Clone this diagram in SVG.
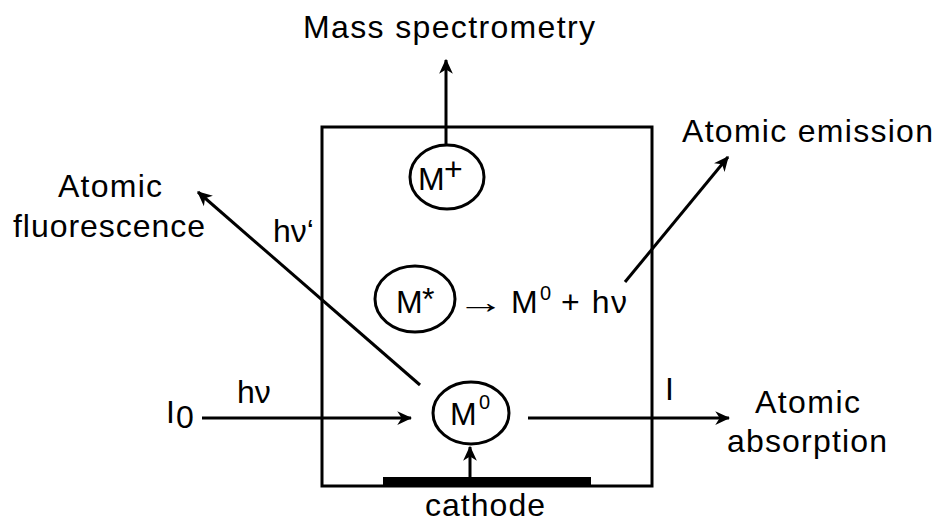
<svg xmlns="http://www.w3.org/2000/svg" width="938" height="524" viewBox="0 0 938 524">
<defs>
<marker id="ah" viewBox="0 0 12 12" markerWidth="15" markerHeight="15" refX="11" refY="6" orient="auto" markerUnits="userSpaceOnUse">
<path d="M0,0.5 L12,6 L0,11.5 L3.5,6 z" fill="#000"/>
</marker>
</defs>
<style>
text{font-family:"Liberation Sans",Arial,sans-serif;font-size:32px;fill:#000}
.sup{font-size:20px}
.node{fill:none;stroke:#000;stroke-width:3}
.conn{fill:none;stroke:#000;stroke-width:3;marker-end:url(#ah)}
</style>
<rect width="938" height="524" fill="#fff"/>
<g id="chamber">
<rect x="322" y="127" width="330" height="359" fill="none" stroke="#000" stroke-width="3"/>
</g>
<g id="cathode">
<rect x="383" y="477" width="208" height="10" fill="#000"/>
<text x="485" y="516" text-anchor="middle" textLength="120" lengthAdjust="spacing">cathode</text>
</g>
<g id="m-plus">
<ellipse class="node" cx="447" cy="177" rx="37" ry="32"/>
<text x="418" y="190">M</text>
<text x="444" y="180" font-size="22">+</text>
</g>
<g id="m-star">
<ellipse class="node" cx="415" cy="299" rx="40" ry="33"/>
<text x="396" y="313">M</text>
<text x="422" y="310" font-size="22">*</text>
</g>
<g id="m-zero">
<ellipse class="node" cx="471" cy="413" rx="38" ry="31"/>
<text x="450" y="425">M</text>
<text class="sup" x="479" y="409">0</text>
</g>
<g id="reaction">
<text transform="translate(457,313) scale(1.5,1)" x="0" y="0" font-family="DejaVu Sans, sans-serif" font-size="36">→</text>
<text x="511" y="313">M</text>
<text class="sup" x="540" y="300">0</text>
<text x="561" y="313" textLength="66" lengthAdjust="spacing">+ hν</text>
</g>
<g id="labels">
<text x="303" y="38" textLength="292" lengthAdjust="spacing">Mass spectrometry</text>
<text x="682" y="142" textLength="251" lengthAdjust="spacing">Atomic emission</text>
<text x="58" y="197" textLength="104" lengthAdjust="spacing">Atomic</text>
<text x="13" y="237" textLength="192" lengthAdjust="spacing">fluorescence</text>
<text x="755" y="413" textLength="105" lengthAdjust="spacing">Atomic</text>
<text x="727" y="452" textLength="160" lengthAdjust="spacing">absorption</text>
<text x="273" y="242">hν‘</text>
<text x="237" y="403">hν</text>
<text x="166" y="423">I</text>
<text x="176" y="428" font-size="22">0</text>
<text x="665" y="400">I</text>
</g>
<g id="connectors">
<line class="conn" x1="446" y1="145" x2="446" y2="60"/>
<line class="conn" x1="420" y1="385" x2="198" y2="192"/>
<line class="conn" x1="625" y1="282" x2="728" y2="157"/>
<line class="conn" x1="202" y1="418" x2="411" y2="418"/>
<line class="conn" x1="528" y1="418" x2="729" y2="418"/>
<line class="conn" x1="470" y1="477" x2="470" y2="447"/>
</g>
</svg>
